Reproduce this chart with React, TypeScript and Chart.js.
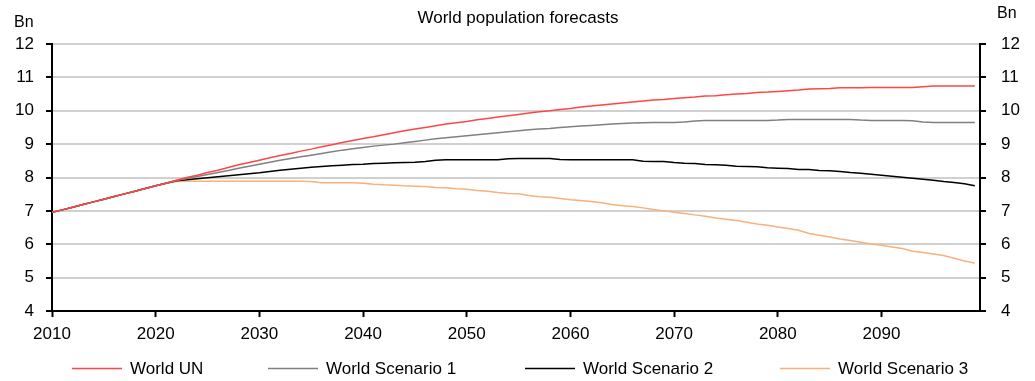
import React, { useEffect, useRef } from 'react';
import { Chart, registerables } from 'chart.js';

Chart.register(...registerables);

const FONT = '"Liberation Sans", Arial, sans-serif';
const TITLE = 'World population forecasts';
const UNIT = 'Bn';

const years = [
  2010, 2011, 2012, 2013, 2014, 2015, 2016, 2017, 2018, 2019,
  2020, 2021, 2022, 2023, 2024, 2025, 2026, 2027, 2028, 2029,
  2030, 2031, 2032, 2033, 2034, 2035, 2036, 2037, 2038, 2039,
  2040, 2041, 2042, 2043, 2044, 2045, 2046, 2047, 2048, 2049,
  2050, 2051, 2052, 2053, 2054, 2055, 2056, 2057, 2058, 2059,
  2060, 2061, 2062, 2063, 2064, 2065, 2066, 2067, 2068, 2069,
  2070, 2071, 2072, 2073, 2074, 2075, 2076, 2077, 2078, 2079,
  2080, 2081, 2082, 2083, 2084, 2085, 2086, 2087, 2088, 2089,
  2090, 2091, 2092, 2093, 2094, 2095, 2096, 2097, 2098, 2099,
];

const worldUN = [
  6.96, 7.03, 7.11, 7.19, 7.27, 7.35, 7.43, 7.51, 7.59, 7.67,
  7.75, 7.83, 7.92, 8.0, 8.07, 8.15, 8.22, 8.3, 8.38, 8.45,
  8.52, 8.59, 8.66, 8.72, 8.79, 8.85, 8.92, 8.98, 9.05, 9.11,
  9.17, 9.22, 9.28, 9.34, 9.4, 9.45, 9.5, 9.55, 9.6, 9.64,
  9.68, 9.73, 9.77, 9.81, 9.85, 9.89, 9.93, 9.97, 10.0, 10.04,
  10.07, 10.11, 10.14, 10.17, 10.2, 10.23, 10.26, 10.29, 10.32, 10.34,
  10.37, 10.39, 10.41, 10.44, 10.45, 10.48, 10.5, 10.52, 10.55, 10.56,
  10.58, 10.6, 10.62, 10.65, 10.66, 10.67, 10.69, 10.69, 10.69, 10.7,
  10.7, 10.7, 10.7, 10.7, 10.72, 10.74, 10.74, 10.74, 10.74, 10.74,
];

const scenario1 = [
  6.96, 7.03, 7.11, 7.19, 7.27, 7.35, 7.43, 7.51, 7.59, 7.67,
  7.75, 7.83, 7.91, 7.97, 8.03, 8.09, 8.15, 8.21, 8.28, 8.34,
  8.4, 8.46, 8.52, 8.57, 8.62, 8.67, 8.72, 8.77, 8.82, 8.86,
  8.9, 8.94, 8.97, 9.0, 9.04, 9.08, 9.12, 9.16, 9.19, 9.22,
  9.25, 9.28, 9.31, 9.34, 9.37, 9.4, 9.43, 9.45, 9.47, 9.5,
  9.52, 9.54, 9.56, 9.58, 9.6, 9.62, 9.63, 9.64, 9.65, 9.65,
  9.65, 9.66, 9.69, 9.71, 9.71, 9.71, 9.71, 9.71, 9.71, 9.71,
  9.72, 9.74, 9.74, 9.74, 9.74, 9.74, 9.74, 9.74, 9.72, 9.71,
  9.71, 9.71, 9.71, 9.7, 9.66, 9.65, 9.65, 9.65, 9.65, 9.65,
];

const scenario2 = [
  6.96, 7.03, 7.11, 7.19, 7.27, 7.35, 7.43, 7.51, 7.59, 7.67,
  7.75, 7.83, 7.9, 7.93, 7.96, 7.99, 8.02, 8.05, 8.08, 8.11,
  8.14, 8.18, 8.22, 8.25, 8.28, 8.31, 8.33, 8.35, 8.37, 8.39,
  8.4, 8.42, 8.43, 8.44, 8.45, 8.46, 8.48, 8.52, 8.53, 8.53,
  8.53, 8.53, 8.53, 8.53, 8.56, 8.57, 8.57, 8.57, 8.57, 8.54,
  8.53, 8.53, 8.53, 8.53, 8.53, 8.53, 8.53, 8.49, 8.48, 8.48,
  8.45, 8.43, 8.42, 8.39, 8.38, 8.37, 8.34, 8.33, 8.32, 8.29,
  8.28, 8.27, 8.24, 8.24, 8.21, 8.2, 8.18, 8.15, 8.13, 8.1,
  8.07, 8.04, 8.01, 7.98, 7.95, 7.92, 7.88, 7.85, 7.81, 7.75,
];

const scenario3 = [
  6.96, 7.03, 7.11, 7.19, 7.27, 7.35, 7.43, 7.51, 7.59, 7.67,
  7.75, 7.83, 7.88, 7.89, 7.89, 7.89, 7.89, 7.89, 7.89, 7.89,
  7.89, 7.89, 7.89, 7.89, 7.89, 7.88, 7.84, 7.84, 7.84, 7.84,
  7.83, 7.8, 7.78, 7.77, 7.75, 7.74, 7.73, 7.7, 7.69, 7.66,
  7.65, 7.61, 7.59, 7.55, 7.52, 7.51, 7.46, 7.42, 7.41, 7.37,
  7.33, 7.31, 7.28, 7.24, 7.19, 7.15, 7.13, 7.09, 7.04, 7.0,
  6.96, 6.92, 6.88, 6.84, 6.79, 6.75, 6.71, 6.66, 6.61, 6.57,
  6.52, 6.47, 6.42, 6.32, 6.27, 6.22, 6.16, 6.11, 6.06, 6.01,
  5.97, 5.92, 5.87, 5.79, 5.75, 5.71, 5.66, 5.58, 5.5, 5.44,
];

const seriesLabels = ['World UN', 'World Scenario 1', 'World Scenario 2', 'World Scenario 3'];
const seriesColors = ['#ff4545', '#808080', '#000000', '#f8b07c'];
const seriesValues = [worldUN, scenario1, scenario2, scenario3];
const legendX = [72, 268, 525, 780];

const decorPlugin = {
  id: 'decor',
  afterDraw(chart: any) {
    const ctx = chart.ctx as CanvasRenderingContext2D;
    ctx.save();
    ctx.fillStyle = '#000';
    ctx.textBaseline = 'middle';
    ctx.font = `17px ${FONT}`;
    ctx.textAlign = 'center';
    ctx.fillText(TITLE, 518, 18);
    ctx.font = `16px ${FONT}`;
    ctx.textAlign = 'left';
    ctx.fillText(UNIT, 14, 23);
    ctx.fillText(UNIT, 997, 14);
    ctx.font = `17px ${FONT}`;
    chart.data.datasets.forEach((ds: any, i: number) => {
      const x = legendX[i];
      ctx.strokeStyle = ds.borderColor;
      ctx.lineWidth = 1.5;
      ctx.beginPath();
      ctx.moveTo(x, 368.5);
      ctx.lineTo(x + 50, 368.5);
      ctx.stroke();
      ctx.fillStyle = '#000';
      ctx.fillText(ds.label, x + 58, 369);
    });
    ctx.restore();
  },
};

export default function App() {
  const ref = useRef<HTMLCanvasElement | null>(null);

  useEffect(() => {
    if (!ref.current) return;
    const tickFont = { family: FONT, size: 17 };
    const yCommon = (position: 'left' | 'right', drawOnChartArea: boolean, width: number, padding: number) => ({
      type: 'linear' as const,
      position,
      min: 4,
      max: 12,
      ticks: { stepSize: 1, font: tickFont, color: '#000', padding },
      grid: {
        drawOnChartArea,
        color: '#d0d0d0',
        lineWidth: 2,
        tickColor: '#000',
        tickLength: 6,
        tickWidth: 2,
      },
      border: { color: '#000', width: 2 },
      afterFit: (s: any) => {
        s.width = width;
        s.paddingTop = 0;
        s.paddingBottom = 0;
      },
    });

    const chart = new Chart(ref.current, {
      type: 'line',
      data: {
        datasets: seriesValues.map((vals, i) => ({
          label: seriesLabels[i],
          data: years.map((y, j) => ({ x: y, y: vals[j] })),
          borderColor: seriesColors[i],
          backgroundColor: seriesColors[i],
          borderWidth: 1.5,
          pointRadius: 0,
          tension: 0,
          yAxisID: 'y',
        })),
      },
      options: {
        responsive: false,
        animation: false,
        layout: { padding: { top: 44, left: 0, right: 0, bottom: 0 } },
        plugins: {
          legend: { display: false },
          title: { display: false },
          tooltip: { enabled: false },
        },
        scales: {
          x: {
            type: 'linear',
            position: 'bottom',
            min: 2010,
            max: 2099.5,
            afterBuildTicks: (s: any) => {
              s.ticks = s.ticks.filter((t: any) => t.value % 10 === 0);
            },
            ticks: {
              stepSize: 10,
              font: tickFont,
              color: '#000',
              padding: 7,
              maxRotation: 0,
              autoSkip: false,
              callback: (v: any) => String(v),
            },
            grid: {
              drawOnChartArea: false,
              tickColor: '#000',
              tickLength: 6,
              tickWidth: 2,
            },
            border: { color: '#000', width: 2 },
            afterFit: (s: any) => {
              s.height = 70;
              s.paddingLeft = 0;
              s.paddingRight = 0;
            },
          },
          y: yCommon('left', true, 52, 12),
          y2: yCommon('right', false, 55, 15),
        },
      },
      plugins: [decorPlugin],
    });
    return () => chart.destroy();
  }, []);

  return (
    <div style={{ position: 'absolute', left: 0, top: 0, width: 1035, height: 381 }}>
      <canvas ref={ref} width={1035} height={381} />
    </div>
  );
}
